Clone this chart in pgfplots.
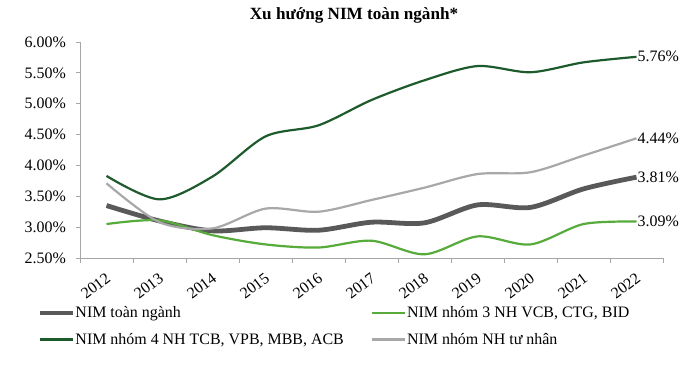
\documentclass[border=0pt]{standalone}
\usepackage{pgfplots}
\pgfplotsset{compat=1.18}
\usepackage{fontspec}
\setmainfont{Liberation Serif}
\definecolor{cTotal}{HTML}{595959}
\definecolor{cBig3}{HTML}{56AB3A}
\definecolor{cBig4}{HTML}{1E5B2C}
\definecolor{cPriv}{HTML}{A8A8A8}
\definecolor{cAxis}{HTML}{A6A6A6}
\newcommand{\sz}{\fontsize{16}{19}\selectfont}
\begin{document}
\begin{tikzpicture}[font=\sz]
\useasboundingbox (0,0) rectangle (700bp,368bp);
\node[font=\fontsize{17.2}{20}\selectfont\bfseries] at (354bp,353bp) {Xu hướng NIM toàn ngành*};
\begin{axis}[
  at={(80bp,110bp)}, anchor=south west,
  scale only axis, width=583bp, height=216bp,
  xmin=-0.5, xmax=10.5, ymin=2.5, ymax=6,
  axis x line*=bottom, axis y line*=left,
  axis line style={cAxis, line width=0.8bp, -},
  tick style={cAxis, line width=0.8bp},
  tick align=outside,
  tick label style={font=\sz},
  xtick={0,...,10},
  xticklabels={2012,2013,2014,2015,2016,2017,2018,2019,2020,2021,2022},
  major x tick style={draw=none},
  minor xtick={-0.5,0.5,...,10.5},
  minor tick length=5bp,
  major tick length=4bp,
  xticklabel style={rotate=37, anchor=north east, inner sep=1bp, xshift=-6bp, yshift=-6bp},
  ytick={2.5,3,...,6},
  yticklabel={\pgfmathprintnumber[fixed,fixed zerofill,precision=2]{\tick}\%},
  yticklabel style={inner sep=1bp, xshift=-9bp},
  /pgf/number format/assume math mode=true,
  legend columns=2,
  legend cell align=left,
  legend style={draw=none, fill=none, font=\sz, inner sep=0pt, at={(-43bp,-48bp)}, anchor=north west,
    nodes={inner sep=0.5bp, anchor=west},
    /tikz/every even column/.append style={column sep=27bp},
    row sep=13bp},
  legend image code/.code={\draw[#1] (0bp,0bp) -- (33bp,0bp);},
  clip=false,
]
\addplot[cTotal, line width=4.8bp, smooth, tension=0.5] coordinates {
(0,3.35) (1,3.10) (2,2.94) (3,2.99) (4,2.95) (5,3.08) (6,3.07) (7,3.36) (8,3.32) (9,3.62) (10,3.81)};
\addlegendentry{NIM toàn ngành}
\addplot[cBig3, line width=2.2bp, smooth, tension=0.5] coordinates {
(0,3.05) (1,3.11) (2,2.87) (3,2.72) (4,2.67) (5,2.78) (6,2.56) (7,2.85) (8,2.72) (9,3.05) (10,3.09)};
\addlegendentry{NIM nhóm 3 NH VCB, CTG, BID}
\addplot[cBig4, line width=2.2bp, smooth, tension=0.5] coordinates {
(0,3.83) (1,3.45) (2,3.82) (3,4.47) (4,4.65) (5,5.06) (6,5.38) (7,5.61) (8,5.51) (9,5.67) (10,5.76)};
\addlegendentry{NIM nhóm 4 NH TCB, VPB, MBB, ACB}
\addplot[cPriv, line width=2.2bp, smooth, tension=0.5] coordinates {
(0,3.71) (1,3.08) (2,2.98) (3,3.30) (4,3.25) (5,3.44) (6,3.64) (7,3.86) (8,3.89) (9,4.16) (10,4.44)};
\addlegendentry{NIM nhóm NH tư nhân}
\node[anchor=west, inner sep=1bp] at (axis cs:10,5.76) {5.76\%};
\node[anchor=west, inner sep=1bp] at (axis cs:10,4.44) {4.44\%};
\node[anchor=west, inner sep=1bp] at (axis cs:10,3.81) {3.81\%};
\node[anchor=west, inner sep=1bp] at (axis cs:10,3.09) {3.09\%};
\end{axis}
\end{tikzpicture}
\end{document}
